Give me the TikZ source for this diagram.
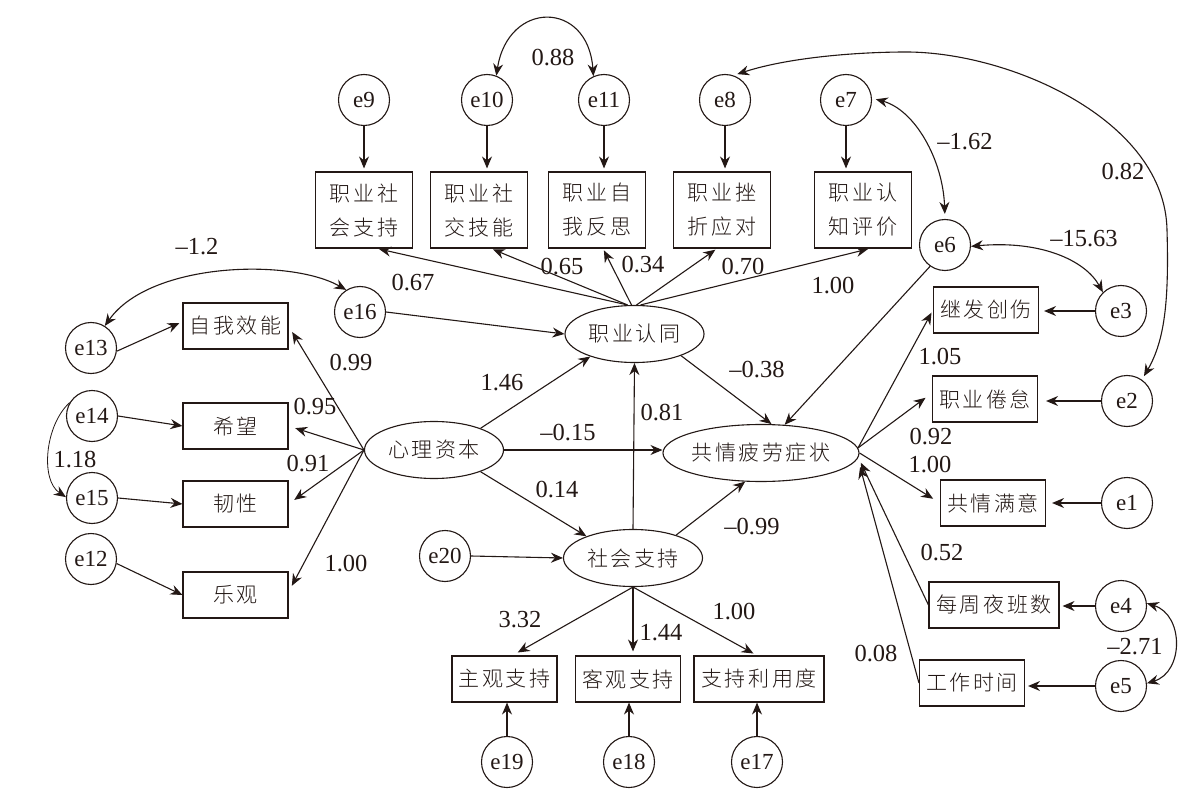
\documentclass[tikz,border=0pt]{standalone}
\usepackage{fontspec}
\setmainfont{Liberation Serif}
\IfFontExistsTF{Noto Sans CJK SC Light}
  {\newfontfamily\cjk{Noto Sans CJK SC Light}[LetterSpace=12]}
  {\newfontfamily\cjk{Noto Sans CJK SC}[LetterSpace=12]}
\usetikzlibrary{arrows.meta,shapes.geometric}
\definecolor{ink}{RGB}{35,24,21}
\newcommand\cjkf{\cjk\fontsize{21}{34}\selectfont}
\newcommand\latf{\fontsize{23}{23}\selectfont}
\newcommand\numf{\fontsize{24.5}{24.5}\selectfont}
\tikzset{
  lat/.style={ellipse,draw,minimum width=139pt,minimum height=57pt,inner sep=0pt,font=\cjkf},
  err/.style={circle,draw,minimum size=51pt,inner sep=0pt,font=\latf},
  obs/.style={rectangle,draw,minimum width=105pt,minimum height=46pt,inner sep=0pt,font=\cjkf},
  obstwo/.style={obs,minimum width=97pt,minimum height=76pt,align=center},
  lbl/.style={inner sep=0pt,font=\numf},
  arr/.style={-{Stealth[length=12pt,width=10pt,inset=4pt]}},
  biarr/.style={{Stealth[length=12pt,width=10pt,inset=4pt]}-{Stealth[length=12pt,width=10pt,inset=4pt]}},
}
\begin{document}
\begin{tikzpicture}[x=1pt,y=-1pt,line width=1.1pt,color=ink]
\useasboundingbox (0,0) rectangle (1194,802);
\fill[white] (0,0) rectangle (1194,802);

% latent variables
\node[lat] (ZY) at (634.5,334) {职业认同};
\node[lat] (XL) at (434,450) {心理资本};
\node[lat,minimum width=193pt] (GQ) at (761,453) {共情疲劳症状};
\node[lat] (SH) at (633,558) {社会支持};

% top indicators
\node[obstwo] (b1) at (364,210) {职业社\\会支持};
\node[obstwo] (b2) at (479,210) {职业社\\交技能};
\node[obstwo] (b3) at (597,210) {职业自\\我反思};
\node[obstwo] (b4) at (722,210) {职业挫\\折应对};
\node[obstwo] (b5) at (863,210) {职业认\\知评价};
\node[err] (e9) at (364,100) {e9};
\node[err] (e10) at (487,100) {e10};
\node[err] (e11) at (604,100) {e11};
\node[err] (e8) at (725,100) {e8};
\node[err] (e7) at (846,100) {e7};

% left indicators
\node[obs] (s1) at (235.5,326) {自我效能};
\node[obs] (s2) at (235.5,426) {希望};
\node[obs] (s3) at (235.5,504) {韧性};
\node[obs] (s4) at (235.5,595) {乐观};
\node[err] (e13) at (91,348) {e13};
\node[err] (e14) at (92,416) {e14};
\node[err] (e15) at (92,498) {e15};
\node[err] (e12) at (91,559) {e12};
\node[err] (e16) at (360,312) {e16};
\node[err] (e20) at (445,556) {e20};

% bottom indicators
\node[obs] (u1) at (504.5,679) {主观支持};
\node[obs] (u2) at (628,679) {客观支持};
\node[obs,minimum width=130pt] (u3) at (759,679) {支持利用度};
\node[err] (e19) at (507,762) {e19};
\node[err] (e18) at (629,762) {e18};
\node[err] (e17) at (757,762) {e17};

% right indicators
\node[obs] (r1) at (986,310) {继发创伤};
\node[obs] (r2) at (985,399) {职业倦怠};
\node[obs] (r3) at (993,503) {共情满意};
\node[obs,minimum width=130pt] (r4) at (994,605) {每周夜班数};
\node[obs] (r5) at (972,683) {工作时间};
\node[err] (e6) at (945,245) {e6};
\node[err] (e3) at (1121,311) {e3};
\node[err] (e2) at (1127,401) {e2};
\node[err] (e1) at (1127,503) {e1};
\node[err] (e4) at (1121,606) {e4};
\node[err] (e5) at (1121,686) {e5};

% residual arrows, top
\foreach \e/\b in {e9/b1,e10/b2,e11/b3,e8/b4,e7/b5}
  \draw[arr,shorten >=3pt] (\e.south) -- (\e.south |- \b.north);
% residual arrows, left
\draw[arr] (e13.-7) -- ([xshift=-3pt,yshift=3pt]s1.west);
\draw[arr] (e14.east) -- (s2.west);
\draw[arr] (e15.east) -- (s3.west);
\draw[arr] (e12.-10) -- (s4.west);
\draw[arr] (e16.east) -- (ZY.west);
\draw[arr] (e20.east) -- (SH.west);
% residual arrows, bottom
\foreach \e/\b in {e19/u1,e18/u2,e17/u3}
  \draw[arr] (\e.north) -- (\e.north |- \b.south);
% residual arrows, right
\draw[arr,shorten >=5pt] (e3.west) -- (e3.west -| r1.east);
\draw[arr,shorten >=8pt] (e2.west) -- (e2.west -| r2.east);
\draw[arr,shorten >=6pt] (e1.west) -- (e1.west -| r3.east);
\draw[arr,shorten >=3pt] (e4.west) -- (e4.west -| r4.east);
\draw[arr,shorten >=3pt] (e5.west) -- (e5.west -| r5.east);

% loadings of 职业认同
\draw[arr,shorten >=2pt] ([xshift=-7pt]ZY.north) -- ([xshift=13pt]b1.south);
\draw[arr,shorten >=2pt] ([xshift=-7pt]ZY.north) -- ([xshift=12pt]b2.south);
\draw[arr,shorten >=2pt] ([xshift=-3pt]ZY.north) -- ([xshift=6pt]b3.south);
\draw[arr,shorten >=2pt] ([xshift=2pt]ZY.north) -- ([xshift=-5pt]b4.south);
\draw[arr,shorten >=2pt] ([xshift=6pt]ZY.north) -- ([xshift=7pt]b5.south);

% loadings of 心理资本
\draw[arr,shorten >=7pt] (XL.west) -- (s1.east);
\draw[arr,shorten >=7pt] (XL.west) -- (s2.east);
\draw[arr,shorten >=7pt] (XL.west) -- (s3.east);
\draw[arr,shorten >=7pt] (XL.west) -- ([yshift=3pt]s4.east);

% loadings of 社会支持
\draw[arr,shorten >=6pt] (SH.south) -- ([xshift=8pt]u1.north);
\draw[arr,shorten >=4pt] (SH.south) -- (SH.south |- u2.north);
\draw[arr,shorten >=4pt] (SH.south) -- ([xshift=-2pt]u3.north);

% loadings of 共情疲劳症状
\draw[arr,shorten >=3pt] (GQ.3) -- (r1.west);
\draw[arr,shorten >=8pt] (GQ.3) -- ([yshift=6pt]r2.west);
\draw[arr,shorten >=8pt] (GQ.east) -- (r3.west);
\draw[arr,shorten >=3pt] (r4.west) -- ([yshift=-7pt]GQ.east);
\draw[arr,shorten >=2pt] (r5.west) -- ([yshift=-12pt]GQ.east);

% structural paths
\draw[arr] (XL.25) -- (ZY.207);
\draw[arr] (XL.east) -- (XL.east -| GQ.west);
\draw[arr] (XL.-25) -- (SH.155);
\draw[arr] (SH.28) -- (GQ.241);
\draw[arr] (SH.north) -- (ZY.south);
\draw[arr] (ZY.-25) -- (GQ.70);
\draw[arr] (e6.235) -- (GQ.50);

% covariances
\draw[biarr] (e10.69) .. controls (508,0) and (588,0) .. (e11.114);
\draw[biarr] (e13.58) .. controls (150,262) and (290,258) .. (e16.122);
\draw[arr,line width=0.8pt] (e14.149) .. controls (45,425) and (40,480) .. (e15.178);
\draw[biarr,shorten <=4pt,shorten >=5pt] (e7.4) .. controls (915,110) and (943,160) .. (e6.north);
\draw[biarr] (e6.-3) .. controls (1040,240) and (1085,260) .. (e3.134);
\draw[biarr] (e4.6) .. controls (1184,615) and (1184,672) .. (e5.6);
\coordinate (k1) at (906,52);
\coordinate (k2) at (1167,230);
\draw[biarr,shorten <=4pt,shorten >=4pt] (e8.71) .. controls (790,57) and (860,52) .. (k1)
   .. controls (1010,52) and (1165,120) .. (k2)
   .. controls (1169,300) and (1165,340) .. (e2.55);

% labels
\node[lbl] (n1) at (553,58) {0.88};
\node[lbl] (n2) at (1123,172) {0.82};
\node[lbl] (n3) at (965,142) {–1.62};
\node[lbl] (n4) at (1084,239) {–15.63};
\node[lbl] (n5) at (197,247) {–1.2};
\node[lbl] (n6) at (413,283) {0.67};
\node[lbl] (n7) at (562,267) {0.65};
\node[lbl] (n8) at (643,265) {0.34};
\node[lbl] (n9) at (743,267) {0.70};
\node[lbl] (n10) at (833,286) {1.00};
\node[lbl] (n11) at (351,363) {0.99};
\node[lbl] (n12) at (315,407) {0.95};
\node[lbl] (n13) at (308,464) {0.91};
\node[lbl] (n14) at (346,564) {1.00};
\node[lbl] (n15) at (75,460) {1.18};
\node[lbl] (n16) at (502,383) {1.46};
\node[lbl] (n17) at (568,433) {–0.15};
\node[lbl] (n18) at (662,413) {0.81};
\node[lbl] (n19) at (557,490) {0.14};
\node[lbl] (n20) at (752,527) {–0.99};
\node[lbl] (n21) at (757,370) {–0.38};
\node[lbl] (n22) at (940,357) {1.05};
\node[lbl] (n23) at (931,437) {0.92};
\node[lbl] (n24) at (930,465) {1.00};
\node[lbl] (n25) at (942,553) {0.52};
\node[lbl] (n26) at (876,654) {0.08};
\node[lbl] (n27) at (1135,647) {–2.71};
\node[lbl] (n28) at (520,620) {3.32};
\node[lbl] (n29) at (661,633) {1.44};
\node[lbl] (n30) at (734,612) {1.00};
\end{tikzpicture}
\end{document}
